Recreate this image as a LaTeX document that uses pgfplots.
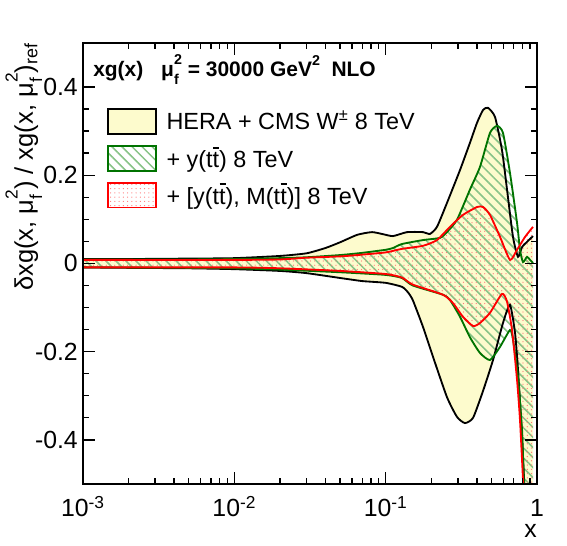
\documentclass[border=0pt]{standalone}
\usepackage{fontspec}
\setmainfont{Liberation Sans}
\usepackage{graphicx}
\usepackage{pgfplots}
\pgfplotsset{compat=1.18}
\usepackage{pgfplotstable}
\usepgfplotslibrary{fillbetween}
\usetikzlibrary{patterns.meta}

\definecolor{hera}{RGB}{253,251,205}
\definecolor{gline}{RGB}{0,115,0}
\definecolor{ghatch}{RGB}{135,195,135}
\definecolor{rdot}{RGB}{255,120,120}

\newcommand\supsub[2]{\rlap{\raisebox{-0.36em}{\scalebox{0.68}{#2}}}\raisebox{0.6em}{\scalebox{0.68}{#1}}}
\newcommand\sups[1]{\raisebox{0.55em}{\scalebox{0.68}{#1}}}
\newcommand\tbar{\rlap{\kern0.02em\rule[0.80em]{0.25em}{0.09em}}t}

% HERA + CMS W upper / lower
\pgfplotstableread{
x y
0.001 0.010
0.002 0.010
0.005 0.011
0.01 0.012
0.02 0.017
0.03 0.023
0.04 0.035
0.05 0.048
0.065 0.065
0.0813 0.071
0.097 0.066
0.1118 0.062
0.1384 0.071
0.1765 0.071
0.1963 0.067
0.2183 0.083
0.254 0.137
0.310 0.212
0.360 0.273
0.4015 0.319
0.440 0.348
0.474 0.353
0.528 0.332
0.587 0.257
0.634 0.167
0.694 0.060
0.749 0.015
0.796 0.037
0.859 0.049
0.941 0.062
}\tabHU
\pgfplotstableread{
x y
0.001 -0.009
0.002 -0.010
0.005 -0.011
0.01 -0.013
0.02 -0.017
0.03 -0.022
0.05 -0.033
0.07 -0.040
0.1 -0.044
0.128 -0.053
0.14 -0.065
0.151 -0.083
0.1765 -0.144
0.2056 -0.212
0.254 -0.303
0.296 -0.348
0.334 -0.362
0.378 -0.350
0.440 -0.289
0.512 -0.219
0.596 -0.135
0.663 -0.094
0.716 -0.158
0.749 -0.241
0.796 -0.393
0.833 -0.536
0.872 -0.70
0.941 -1.0
}\tabHL
% + y(tt) upper / lower
\pgfplotstableread{
x y
0.001 0.009
0.005 0.009
0.01 0.010
0.02 0.012
0.03 0.014
0.05 0.019
0.07 0.024
0.1 0.031
0.1118 0.035
0.128 0.044
0.1765 0.053
0.2286 0.058
0.254 0.071
0.296 0.099
0.360 0.167
0.420 0.219
0.489 0.296
0.544 0.312
0.596 0.296
0.663 0.205
0.738 0.092
0.772 0.031
0.808 0.003
0.859 0.015
0.899 0.008
0.941 0.001
}\tabGU
\pgfplotstableread{
x y
0.001 -0.009
0.005 -0.010
0.01 -0.011
0.02 -0.014
0.05 -0.020
0.1 -0.026
0.128 -0.033
0.151 -0.050
0.2393 -0.071
0.266 -0.083
0.310 -0.121
0.360 -0.167
0.420 -0.203
0.489 -0.219
0.570 -0.189
0.663 -0.151
0.694 -0.173
0.749 -0.257
0.796 -0.378
0.820 -0.498
0.859 -0.65
0.941 -1.0
}\tabGL
% + [y(tt), M(tt)] upper / lower
\pgfplotstableread{
x y
0.001 0.008
0.01 0.008
0.02 0.009
0.03 0.013
0.05 0.016
0.07 0.020
0.1 0.025
0.128 0.033
0.1765 0.040
0.2183 0.053
0.266 0.083
0.324 0.110
0.4015 0.128
0.440 0.128
0.489 0.110
0.570 0.060
0.663 0.008
0.738 0.031
0.833 0.060
0.941 0.083
}\tabRU
\pgfplotstableread{
x y
0.001 -0.009
0.01 -0.009
0.02 -0.011
0.05 -0.017
0.1 -0.024
0.128 -0.032
0.151 -0.048
0.2393 -0.071
0.2786 -0.090
0.324 -0.121
0.378 -0.142
0.420 -0.135
0.489 -0.112
0.587 -0.069
0.634 -0.087
0.684 -0.151
0.738 -0.264
0.772 -0.355
0.808 -0.491
0.846 -0.65
0.941 -1.0
}\tabRL

\begin{document}
\begin{tikzpicture}
\begin{axis}[
  at={(0,0)}, anchor=south west,
  scale only axis, width=320.3pt, height=311.1pt,
  xmode=log, xmin=1e-3, xmax=1, ymin=-0.5, ymax=0.5,
  xtick={0.001,0.01,0.1,1},
  xticklabels={10\textsuperscript{-3},10\textsuperscript{-2},10\textsuperscript{-1},1},
  ytick={-0.4,-0.2,0,0.2,0.4},
  yticklabels={-0.4,-0.2,0,0.2,0.4},
  minor y tick num=3,
  axis on top,
  axis line style={line width=1.3pt},
  every tick/.style={black, line width=1pt},
  major tick length=8.5pt, minor tick length=4.2pt,
  tick align=inside,
  ticklabel style={font=\fontsize{17.5}{20}\selectfont, inner sep=0pt},
  xticklabel style={anchor=base, yshift=-23.3pt},
  yticklabel style={anchor=east, xshift=-3.5pt},
  xlabel={x},
  ylabel={δxg(x, μ\supsub{2}{f}) / xg(x, μ\supsub{2}{f})\textsubscript{ref}},
  x label style={at={([yshift=-38pt]axis description cs:1,0)}, anchor=base east, inner sep=0pt, font=\fontsize{17.5}{20}\selectfont},
  y label style={at={([xshift=-35.3pt]axis description cs:0,1)}, anchor=base east, inner sep=0pt, font=\fontsize{18}{20}\selectfont},
  legend style={at={(axis description cs:0.0528,0.8525)}, anchor=north west, draw=none, fill=none,
    inner sep=0pt, row sep=7pt, nodes={inner sep=0pt, text depth=0.2em},
    font=\fontsize{16.5}{19}\selectfont},
  legend cell align=left,
  curve/.style={smooth, tension=0.35},
]
\addplot[forget plot, curve, draw=none, name path=hu] table {\tabHU};
\addplot[forget plot, curve, draw=none, name path=hl] table {\tabHL};
\addplot[forget plot, curve, draw=none, name path=gu] table {\tabGU};
\addplot[forget plot, curve, draw=none, name path=gl] table {\tabGL};
\addplot[forget plot, curve, draw=none, name path=ru] table {\tabRU};
\addplot[forget plot, curve, draw=none, name path=rl] table {\tabRL};

\addplot[forget plot, fill=hera, draw=none] fill between[of=hu and hl];
\addplot[forget plot, draw=none, pattern={Lines[angle=-45,distance=5pt,line width=1.1pt]}, pattern color=ghatch] fill between[of=gu and gl];
\addplot[forget plot, draw=none, pattern={Dots[distance=3pt,radius=0.45pt]}, pattern color=rdot] fill between[of=ru and rl];

\addplot[forget plot, curve, black, line width=1.3pt] table {\tabHU};
\addplot[forget plot, curve, black, line width=1.3pt] table {\tabHL};
\addplot[forget plot, curve, gline, line width=1.3pt] table {\tabGU};
\addplot[forget plot, curve, gline, line width=1.3pt] table {\tabGL};
\addplot[forget plot, curve, red, line width=1.3pt] table {\tabRU};
\addplot[forget plot, curve, red, line width=1.3pt] table {\tabRL};

\addlegendimage{legend image code/.code={\draw[fill=hera, draw=black, line width=1.3pt] (0pt,-8.8pt) rectangle (34pt,8.8pt); \path (41pt,0pt);}}
\addlegendentry{HERA + CMS W\textsuperscript{±} 8 TeV}
\addlegendimage{legend image code/.code={\draw[pattern={Lines[angle=-45,distance=5pt,line width=1.1pt]}, pattern color=ghatch, draw=gline, line width=1.3pt] (0pt,-8.8pt) rectangle (34pt,8.8pt); \path (41pt,0pt);}}
\addlegendentry{+ y(t\tbar) 8 TeV}
\addlegendimage{legend image code/.code={\draw[pattern={Dots[distance=3pt,radius=0.45pt]}, pattern color=rdot, draw=red, line width=1.3pt] (0pt,-8.8pt) rectangle (34pt,8.8pt); \path (41pt,0pt);}}
\addlegendentry{+ [y(t\tbar), M(t\tbar)] 8 TeV}

\node[anchor=base west, inner sep=0pt, font=\bfseries\fontsize{22}{26}\selectfont] at ([yshift=4.2pt]axis description cs:0,1) {CMS};
\node[anchor=base west, inner sep=0pt, font=\bfseries\fontsize{14.8}{18}\selectfont] at (axis description cs:0.022,0.923) {xg(x)\hspace{0.85em}μ\supsub{2}{f} = 30000 GeV\sups{2}\hspace{0.55em}NLO};
\end{axis}
\pgfresetboundingbox
\path (-58.55pt,-43.7pt) rectangle (341.45pt,341.4pt);
\end{tikzpicture}
\end{document}
